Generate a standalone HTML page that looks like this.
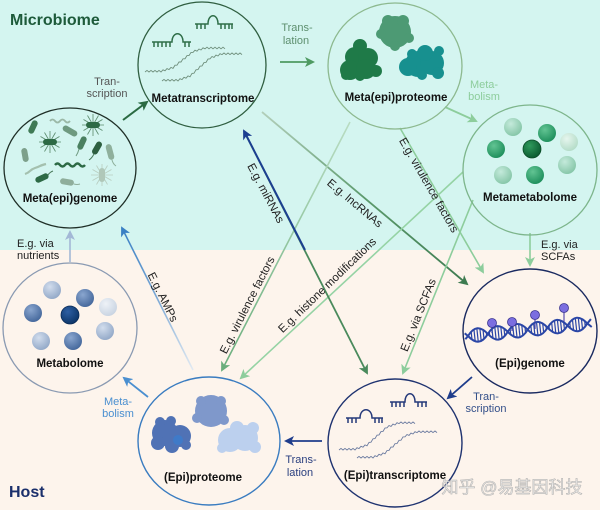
<!DOCTYPE html>
<html><head><meta charset="utf-8"><style>
html,body{margin:0;padding:0;background:#fdf4ec;}
svg{display:block;font-family:"Liberation Sans","Noto Sans CJK SC",sans-serif;}
</style></head><body>
<svg width="600" height="510" viewBox="0 0 600 510" xmlns="http://www.w3.org/2000/svg">
<defs>
 <marker id="mDG" viewBox="0 0 10 10" refX="8" refY="5" markerWidth="10" markerHeight="10" markerUnits="userSpaceOnUse" orient="auto"><path d="M0,0 L10,5 L0,10 L2.5,5 z" fill="#2a6a42"/></marker>
 <marker id="mG" viewBox="0 0 10 10" refX="8" refY="5" markerWidth="10" markerHeight="10" markerUnits="userSpaceOnUse" orient="auto"><path d="M0,0 L10,5 L0,10 L2.5,5 z" fill="#4f9a62"/></marker>
 <marker id="mLG" viewBox="0 0 10 10" refX="8" refY="5" markerWidth="10" markerHeight="10" markerUnits="userSpaceOnUse" orient="auto"><path d="M0,0 L10,5 L0,10 L2.5,5 z" fill="#8dcd9c"/></marker>
 <marker id="mG2" viewBox="0 0 10 10" refX="8" refY="5" markerWidth="10" markerHeight="10" markerUnits="userSpaceOnUse" orient="auto"><path d="M0,0 L10,5 L0,10 L2.5,5 z" fill="#3d7b50"/></marker>
 <marker id="mG3" viewBox="0 0 10 10" refX="8" refY="5" markerWidth="10" markerHeight="10" markerUnits="userSpaceOnUse" orient="auto"><path d="M0,0 L10,5 L0,10 L2.5,5 z" fill="#4a8a5c"/></marker>
 <marker id="mG4" viewBox="0 0 10 10" refX="8" refY="5" markerWidth="10" markerHeight="10" markerUnits="userSpaceOnUse" orient="auto"><path d="M0,0 L10,5 L0,10 L2.5,5 z" fill="#6aae7c"/></marker>
 <marker id="mN" viewBox="0 0 10 10" refX="8" refY="5" markerWidth="10" markerHeight="10" markerUnits="userSpaceOnUse" orient="auto"><path d="M0,0 L10,5 L0,10 L2.5,5 z" fill="#1c3f91"/></marker>
 <marker id="mN2" viewBox="0 0 10 10" refX="8" refY="5" markerWidth="10" markerHeight="10" markerUnits="userSpaceOnUse" orient="auto"><path d="M0,0 L10,5 L0,10 L2.5,5 z" fill="#1f3d8c"/></marker>
 <marker id="mB" viewBox="0 0 10 10" refX="8" refY="5" markerWidth="10" markerHeight="10" markerUnits="userSpaceOnUse" orient="auto"><path d="M0,0 L10,5 L0,10 L2.5,5 z" fill="#3a80c4"/></marker>
 <marker id="mB2" viewBox="0 0 10 10" refX="8" refY="5" markerWidth="10" markerHeight="10" markerUnits="userSpaceOnUse" orient="auto"><path d="M0,0 L10,5 L0,10 L2.5,5 z" fill="#4a8fd0"/></marker>
 <marker id="mGB" viewBox="0 0 10 10" refX="8" refY="5" markerWidth="10" markerHeight="10" markerUnits="userSpaceOnUse" orient="auto"><path d="M0,0 L10,5 L0,10 L2.5,5 z" fill="#a3b8d6"/></marker>

 <linearGradient id="gLnc" gradientUnits="userSpaceOnUse" x1="262" y1="112" x2="468" y2="285"><stop offset="0" stop-color="#b3cfbb"/><stop offset="0.5" stop-color="#5c9a6c"/><stop offset="1" stop-color="#3d7b50"/></linearGradient>
 <linearGradient id="gAmp" gradientUnits="userSpaceOnUse" x1="193" y1="370" x2="122" y2="228"><stop offset="0" stop-color="#e2eaf2"/><stop offset="0.5" stop-color="#7eaad6"/><stop offset="1" stop-color="#3a80c4"/></linearGradient>
 <linearGradient id="gVirL" gradientUnits="userSpaceOnUse" x1="350" y1="122" x2="222" y2="370"><stop offset="0" stop-color="#b9dcc2"/><stop offset="1" stop-color="#6aae7c"/></linearGradient>

 <radialGradient id="sgPale" cx="0.38" cy="0.32" r="0.7"><stop offset="0" stop-color="#e6f6ee"/><stop offset="1" stop-color="#b4dcc8"/></radialGradient>
 <radialGradient id="sgLight" cx="0.38" cy="0.32" r="0.7"><stop offset="0" stop-color="#c4eadb"/><stop offset="1" stop-color="#86c6a8"/></radialGradient>
 <radialGradient id="sgMid" cx="0.38" cy="0.32" r="0.7"><stop offset="0" stop-color="#62c493"/><stop offset="1" stop-color="#1e8f5c"/></radialGradient>
 <radialGradient id="sgDark" cx="0.38" cy="0.32" r="0.7"><stop offset="0" stop-color="#2f9a5c"/><stop offset="1" stop-color="#0a5a30"/></radialGradient>

 <radialGradient id="sbPale" cx="0.38" cy="0.32" r="0.7"><stop offset="0" stop-color="#eef2f7"/><stop offset="1" stop-color="#c9d4e2"/></radialGradient>
 <radialGradient id="sbLight" cx="0.38" cy="0.32" r="0.7"><stop offset="0" stop-color="#d2dded"/><stop offset="1" stop-color="#93a9c8"/></radialGradient>
 <radialGradient id="sbMid" cx="0.38" cy="0.32" r="0.7"><stop offset="0" stop-color="#8aa6cf"/><stop offset="1" stop-color="#45689c"/></radialGradient>
 <radialGradient id="sbDark" cx="0.38" cy="0.32" r="0.7"><stop offset="0" stop-color="#2e5fa3"/><stop offset="1" stop-color="#0c3568"/></radialGradient>

 <g id="hair" stroke-width="0.8" fill="none">
  <path d="M0,0 l11,0 M0,0 l9.5,5.5 M0,0 l5.5,9.5 M0,0 l0,11 M0,0 l-5.5,9.5 M0,0 l-9.5,5.5 M0,0 l-11,0 M0,0 l-9.5,-5.5 M0,0 l-5.5,-9.5 M0,0 l0,-11 M0,0 l5.5,-9.5 M0,0 l9.5,-5.5"/>
 </g>

 <clipPath id="dnaClip">
  <path d="M0,0 c7,9 13,9 20,0 c-7,-9 -13,-9 -20,0 Z M20,0 c7,9 13,9 20,0 c-7,-9 -13,-9 -20,0 Z M40,0 c7,9 13,9 20,0 c-7,-9 -13,-9 -20,0 Z M60,0 c7,9 13,9 20,0 c-7,-9 -13,-9 -20,0 Z M80,0 c7,9 13,9 20,0 c-7,-9 -13,-9 -20,0 Z M100,0 c7,9 13,9 20,0 c-7,-9 -13,-9 -20,0 Z"/>
 </clipPath>
</defs>

<!-- backgrounds -->
<rect x="0" y="0" width="600" height="250" fill="#d4f5f0"/>
<rect x="0" y="250" width="600" height="260" fill="#fdf4ec"/>

<!-- titles -->
<text x="10" y="25" font-size="16" font-weight="bold" fill="#1d5a3a">Microbiome</text>
<text x="9" y="497" font-size="16" font-weight="bold" fill="#1b2f6b">Host</text>

<!-- long crossing connectors -->
<line x1="262" y1="112" x2="467" y2="284" stroke="url(#gLnc)" stroke-width="1.8" marker-end="url(#mG2)"/>
<line x1="400" y1="128" x2="483" y2="272" stroke="#8dcd9c" stroke-width="1.6" marker-end="url(#mLG)"/>
<line x1="350" y1="122" x2="222" y2="370" stroke="url(#gVirL)" stroke-width="1.6" marker-end="url(#mG4)"/>
<line x1="463" y1="172" x2="241" y2="378" stroke="#95d3a4" stroke-width="1.6" marker-end="url(#mLG)"/>
<line x1="473" y1="200" x2="403" y2="373" stroke="#8dcd9c" stroke-width="1.6" marker-end="url(#mLG)"/>
<line x1="193" y1="370" x2="122" y2="228" stroke="url(#gAmp)" stroke-width="1.6" marker-end="url(#mB)"/>
<line x1="246" y1="135" x2="367" y2="373" stroke="#4a8a5c" stroke-width="1.8" marker-end="url(#mG3)"/>
<line x1="305" y1="250" x2="244" y2="131" stroke="#1c3f91" stroke-width="2" marker-end="url(#mN)"/>

<!-- short connectors -->
<line x1="123" y1="120" x2="147" y2="102" stroke="#2a6a42" stroke-width="2" marker-end="url(#mDG)"/>
<line x1="280" y1="62" x2="313" y2="62" stroke="#4f9a62" stroke-width="1.8" marker-end="url(#mG)"/>
<line x1="445" y1="107" x2="476" y2="121" stroke="#8dcd9c" stroke-width="1.8" marker-end="url(#mLG)"/>
<line x1="530" y1="233" x2="530" y2="265" stroke="#8dcd9c" stroke-width="1.6" marker-end="url(#mLG)"/>
<line x1="70" y1="262" x2="70" y2="232" stroke="#a3b8d6" stroke-width="1.6" marker-end="url(#mGB)"/>
<line x1="148" y1="397" x2="124" y2="378" stroke="#4a8fd0" stroke-width="1.8" marker-end="url(#mB2)"/>
<line x1="322" y1="441" x2="286" y2="441" stroke="#1f3d8c" stroke-width="1.8" marker-end="url(#mN2)"/>
<line x1="472" y1="377" x2="448" y2="398" stroke="#1f3d8c" stroke-width="1.8" marker-end="url(#mN2)"/>

<!-- circles -->
<ellipse cx="70" cy="168" rx="66" ry="60" fill="none" stroke="#1f2f27" stroke-width="1.3"/>
<ellipse cx="202" cy="65" rx="64" ry="63" fill="none" stroke="#2f5e40" stroke-width="1.3"/>
<ellipse cx="395" cy="66" rx="67" ry="63" fill="none" stroke="#8db98f" stroke-width="1.3"/>
<ellipse cx="530" cy="170" rx="67" ry="65" fill="none" stroke="#7db58b" stroke-width="1.3"/>
<ellipse cx="70" cy="328" rx="67" ry="65" fill="none" stroke="#8a9ab2" stroke-width="1.3"/>
<ellipse cx="209" cy="441" rx="71" ry="64" fill="none" stroke="#3a7cc0" stroke-width="1.4"/>
<ellipse cx="530" cy="331" rx="67" ry="62" fill="none" stroke="#1a2a60" stroke-width="1.4"/>
<ellipse cx="395" cy="443" rx="67" ry="64" fill="none" stroke="#1f3370" stroke-width="1.4"/>

<!-- Meta(epi)genome bacteria -->
<g>
 <rect x="-7" y="-3" width="14" height="6" rx="3" fill="#3f7a55" transform="translate(33,127) rotate(-65)"/>
 <path d="M50,121 q2.5,-3 5,0 t5,0 t5,0 t5,0" fill="none" stroke="#9bb8a6" stroke-width="1.8"/>
 <rect x="-8" y="-3" width="16" height="6" rx="3" fill="#6f9a80" transform="translate(70,131) rotate(30)"/>
 <use href="#hair" stroke="#5a8a6c" transform="translate(93,125)"/>
 <rect x="-7" y="-3" width="14" height="6" rx="3" fill="#2d6a45" transform="translate(93,125)"/>
 <use href="#hair" stroke="#5a8a6c" transform="translate(50,142)"/>
 <rect x="-7" y="-3" width="14" height="6" rx="3" fill="#2d6a45" transform="translate(50,142)"/>
 <rect x="-7" y="-3" width="14" height="6" rx="3" fill="#4a8060" transform="translate(82,143) rotate(-65)"/>
 <path d="M79,149 q-1,4 -3,7" fill="none" stroke="#6f9a80" stroke-width="1"/>
 <rect x="-7" y="-3" width="14" height="6" rx="3" fill="#2d5f40" transform="translate(97,148) rotate(-60)"/>
 <path d="M94,154 q-2,4 -5,6" fill="none" stroke="#4a7a5c" stroke-width="1"/>
 <rect x="-7" y="-3" width="14" height="6" rx="3" fill="#7da08b" transform="translate(25,155) rotate(80)"/>
 <rect x="-8" y="-3" width="16" height="6" rx="3" fill="#8fb09c" transform="translate(110,152) rotate(75)"/>
 <path d="M112,160 q1,4 4,6" fill="none" stroke="#8fb09c" stroke-width="1"/>
 <path d="M55,165 q2.5,-3 5,0 t5,0 t5,0 t5,0 t5,0 t5,0" fill="none" stroke="#2d6a45" stroke-width="2.4"/>
 <path d="M25,174 q3,-1 5,-3 t5,-3 t5,-2 t6,-2" fill="none" stroke="#a4c0ae" stroke-width="2.2"/>
 <rect x="-7" y="-3" width="14" height="6" rx="3" fill="#2d6a45" transform="translate(42,178) rotate(-25)"/>
 <path d="M48,175 q2,-3 5,-4" fill="none" stroke="#4a7a5c" stroke-width="1"/>
 <rect x="-7" y="-3" width="14" height="6" rx="3" fill="#8fae9b" transform="translate(67,182) rotate(10)"/>
 <path d="M74,184 q3,1 6,0" fill="none" stroke="#8fae9b" stroke-width="1"/>
 <use href="#hair" stroke="#b8cdbf" transform="translate(102,175)"/>
 <rect x="-3" y="-7" width="6" height="14" rx="3" fill="#b0c8b9" transform="translate(102,175)"/>
</g>
<text x="70" y="202" font-size="11.5" font-weight="bold" fill="#111" text-anchor="middle">Meta(epi)genome</text>

<!-- Metatranscriptome -->
<g fill="none" stroke="#2f6e48" stroke-width="1.5">
 <path d="M152,42 H172 C172,31 183,31 183,42 H191"/>
 <path d="M154,42 v5 M158,42 v5 M162,42 v5 M166,42 v5 M170,42 v5 M185,42 v5 M189,42 v5"/>
 <path d="M195,24 H208 C208,13 218,13 218,24 H233"/>
 <path d="M197,24 v5 M201,24 v5 M205,24 v5 M221,24 v5 M225,24 v5 M229,24 v5 M232,24 v5"/>
</g>
<g fill="none" stroke="#6f8f7c" stroke-width="0.9">
 <path d="M145,72 l2,-1.6 l2,1.6 l2,-1.6 l2,1.6 l2,-1.6 l2,1.6 l2,-1.6 l2,1.6 l2,-2.2 l2,1.0 l2,-2.2 l2,1.0 l2,-2.2 l2,1.0 l2,-3.2 l2,0 l2,-3.2 l2,0 l2,-3.2 l2,0 l2,-3.2 l2,0 l2,-3.2 l2,0 l2,-2.2 l2,1.0 l2,-2.2 l2,1.0 l2,-2.2 l2,1.0 l2,-1.6 l2,1.6 l2,-1.6 l2,1.6 l2,-1.6 l2,1.6 l2,-1.6 l2,1.6 l2,-1.6 l2,1.6"/>
 <path d="M162,81 l2,-1.6 l2,1.6 l2,-1.6 l2,1.6 l2,-1.6 l2,1.6 l2,-1.6 l2,1.6 l2,-2.3 l2,0.9 l2,-2.3 l2,0.9 l2,-2.3 l2,0.9 l2,-3.4 l2,-0.2 l2,-3.4 l2,-0.2 l2,-3.4 l2,-0.2 l2,-3.4 l2,-0.2 l2,-3.4 l2,-0.2 l2,-2.3 l2,0.9 l2,-2.3 l2,0.9 l2,-2.3 l2,0.9 l2,-1.6 l2,1.6 l2,-1.6 l2,1.6 l2,-1.6 l2,1.6 l2,-1.6 l2,1.6 l2,-1.6 l2,1.6"/>
</g>
<text x="203" y="102" font-size="11.5" font-weight="bold" fill="#111" text-anchor="middle">Metatranscriptome</text>

<!-- Meta(epi)proteome blobs -->
<g fill="#4d9a74">
 <circle cx="395" cy="32" r="16"/><circle cx="388" cy="21" r="6"/><circle cx="403" cy="21" r="6"/><circle cx="381" cy="34" r="5"/><circle cx="409" cy="38" r="5"/><circle cx="395" cy="46" r="5"/>
</g>
<g fill="#1f7a48">
 <circle cx="360" cy="46" r="7"/><circle cx="355" cy="57" r="10"/><circle cx="368" cy="58" r="10"/><circle cx="350" cy="70" r="10"/><circle cx="366" cy="69" r="10"/><circle cx="376" cy="71" r="6"/><circle cx="346" cy="75" r="5"/><circle cx="360" cy="76" r="5"/>
</g>
<g fill="#17908f">
 <circle cx="418" cy="64" r="13"/><circle cx="432" cy="63" r="12"/><circle cx="408" cy="67" r="9"/><circle cx="425" cy="53" r="8"/><circle cx="439" cy="51" r="5"/><circle cx="412" cy="54" r="5"/><circle cx="422" cy="75" r="5"/><circle cx="438" cy="73" r="6"/>
</g>
<text x="396" y="101" font-size="11.5" font-weight="bold" fill="#111" text-anchor="middle">Meta(epi)proteome</text>

<!-- Metametabolome spheres -->
<circle cx="513" cy="127" r="9" fill="url(#sgLight)"/>
<circle cx="547" cy="133" r="9" fill="url(#sgMid)"/>
<circle cx="569" cy="142" r="9" fill="url(#sgPale)"/>
<circle cx="496" cy="149" r="9" fill="url(#sgMid)"/>
<circle cx="532" cy="149" r="9" fill="url(#sgDark)" stroke="#0a4a26" stroke-width="0.8"/>
<circle cx="567" cy="165" r="9" fill="url(#sgLight)"/>
<circle cx="503" cy="175" r="9" fill="url(#sgLight)"/>
<circle cx="535" cy="175" r="9" fill="url(#sgMid)"/>
<text x="530" y="201" font-size="11.5" font-weight="bold" fill="#111" text-anchor="middle">Metametabolome</text>

<!-- Metabolome spheres -->
<circle cx="52" cy="290" r="9" fill="url(#sbLight)"/>
<circle cx="85" cy="298" r="9" fill="url(#sbMid)"/>
<circle cx="108" cy="307" r="9" fill="url(#sbPale)"/>
<circle cx="33" cy="313" r="9" fill="url(#sbMid)"/>
<circle cx="70" cy="315" r="9" fill="url(#sbDark)" stroke="#0a2a55" stroke-width="0.8"/>
<circle cx="105" cy="331" r="9" fill="url(#sbLight)"/>
<circle cx="41" cy="341" r="9" fill="url(#sbLight)"/>
<circle cx="73" cy="341" r="9" fill="url(#sbMid)"/>
<text x="70" y="367" font-size="11.5" font-weight="bold" fill="#111" text-anchor="middle">Metabolome</text>

<!-- (Epi)proteome blobs -->
<g fill="#7f98cb">
 <circle cx="211" cy="411" r="16"/><circle cx="201" cy="401" r="5"/><circle cx="221" cy="401" r="5"/><circle cx="197" cy="418" r="5"/><circle cx="224" cy="420" r="5"/>
</g>
<g fill="#5072b5">
 <circle cx="165" cy="433" r="13"/><circle cx="180" cy="436" r="11"/><circle cx="158" cy="443" r="7"/><circle cx="172" cy="446" r="7"/><circle cx="160" cy="422" r="5"/><circle cx="186" cy="445" r="5"/><circle cx="171" cy="421" r="5"/>
 <circle cx="178" cy="440" r="5" fill="#3f7ac8"/>
</g>
<g fill="#bcd0ee">
 <circle cx="230" cy="440" r="12"/><circle cx="245" cy="438" r="13"/><circle cx="237" cy="428" r="7"/><circle cx="253" cy="428" r="6"/><circle cx="222" cy="448" r="5"/><circle cx="255" cy="447" r="6"/>
</g>
<text x="203" y="481" font-size="11.5" font-weight="bold" fill="#111" text-anchor="middle">(Epi)proteome</text>

<!-- (Epi)genome DNA -->
<g stroke="#5a4fb0" stroke-width="1.2">
 <line x1="492" y1="323" x2="492" y2="333"/>
 <line x1="512" y1="322" x2="512" y2="331"/>
 <line x1="535" y1="315" x2="535" y2="329"/>
 <line x1="564" y1="308" x2="564" y2="326"/>
</g>
<g transform="translate(468,336) rotate(-6)">
 <line x1="0" y1="0" x2="120" y2="0" stroke="#2b46a6" stroke-width="16" stroke-dasharray="1.2 1.8" clip-path="url(#dnaClip)"/>
 <path d="M-3,-3 L0,0 c7,9 13,9 20,0 c7,-9 13,-9 20,0 c7,9 13,9 20,0 c7,-9 13,-9 20,0 c7,9 13,9 20,0 c7,-9 13,-9 20,0 l4,4" fill="none" stroke="#2b46a6" stroke-width="2"/>
 <path d="M-3,3 L0,0 c7,-9 13,-9 20,0 c7,9 13,9 20,0 c7,-9 13,-9 20,0 c7,9 13,9 20,0 c7,-9 13,-9 20,0 c7,9 13,9 20,0 l4,-4" fill="none" stroke="#2b46a6" stroke-width="2"/>
</g>
<g fill="#7b6ee0" stroke="#3b3590" stroke-width="0.8">
 <circle cx="492" cy="323" r="4.5"/>
 <circle cx="512" cy="322" r="4.5"/>
 <circle cx="535" cy="315" r="4.5"/>
 <circle cx="564" cy="308" r="4.5"/>
</g>
<text x="530" y="367" font-size="11.5" font-weight="bold" fill="#111" text-anchor="middle">(Epi)genome</text>

<!-- (Epi)transcriptome -->
<g fill="none" stroke="#25397a" stroke-width="1.5">
 <path d="M346,418 H360 C360,407 372,407 372,418 H383"/>
 <path d="M348,418 v5 M352,418 v5 M356,418 v5 M375,418 v5 M379,418 v5 M382,418 v5"/>
 <path d="M390,402 H405 C405,391 415,391 415,402 H427"/>
 <path d="M392,402 v5 M396,402 v5 M400,402 v5 M404,402 v5 M418,402 v5 M422,402 v5 M426,402 v5"/>
</g>
<g fill="none" stroke="#6b7ba0" stroke-width="0.9">
 <path d="M339,450 l2,-1.6 l2,1.6 l2,-1.6 l2,1.6 l2,-1.6 l2,1.6 l2,-1.6 l2,1.6 l2,-2.3 l2,0.9 l2,-2.3 l2,0.9 l2,-2.3 l2,0.9 l2,-3.4 l2,-0.2 l2,-3.4 l2,-0.2 l2,-3.4 l2,-0.2 l2,-3.4 l2,-0.2 l2,-3.4 l2,-0.2 l2,-2.3 l2,0.9 l2,-2.3 l2,0.9 l2,-2.3 l2,0.9 l2,-1.6 l2,1.6 l2,-1.6 l2,1.6 l2,-1.6 l2,1.6 l2,-1.6 l2,1.6"/>
 <path d="M357,458 l2,-1.6 l2,1.6 l2,-1.6 l2,1.6 l2,-1.6 l2,1.6 l2,-1.6 l2,1.6 l2,-2.3 l2,0.9 l2,-2.3 l2,0.9 l2,-2.3 l2,0.9 l2,-3.3 l2,-0.1 l2,-3.3 l2,-0.1 l2,-3.3 l2,-0.1 l2,-3.3 l2,-0.1 l2,-3.3 l2,-0.1 l2,-2.3 l2,0.9 l2,-2.3 l2,0.9 l2,-2.3 l2,0.9 l2,-1.6 l2,1.6 l2,-1.6 l2,1.6 l2,-1.6 l2,1.6 l2,-1.6 l2,1.6 l2,-1.6 l2,1.6"/>
</g>
<text x="395" y="479" font-size="11.5" font-weight="bold" fill="#111" text-anchor="middle">(Epi)transcriptome</text>

<!-- short connector labels -->
<g font-size="11" text-anchor="middle">
 <text x="107" y="85" fill="#555">Tran-</text>
 <text x="107" y="97" fill="#555">scription</text>
 <text x="297" y="31" fill="#5d8f6e">Trans-</text>
 <text x="296" y="44" fill="#5d8f6e">lation</text>
 <text x="484" y="88" fill="#8dcd9c">Meta-</text>
 <text x="484" y="100" fill="#8dcd9c">bolism</text>
 <text x="118" y="405" fill="#4a8fd0">Meta-</text>
 <text x="118" y="417" fill="#4a8fd0">bolism</text>
 <text x="301" y="463" fill="#2a3f7f">Trans-</text>
 <text x="300" y="476" fill="#2a3f7f">lation</text>
 <text x="486" y="400" fill="#34508a">Tran-</text>
 <text x="486" y="412" fill="#34508a">scription</text>
</g>
<g font-size="11" fill="#222">
 <text x="541" y="248">E.g. via</text>
 <text x="541" y="260">SCFAs</text>
 <text x="17" y="247">E.g. via</text>
 <text x="17" y="259">nutrients</text>
</g>

<!-- rotated connector labels -->
<g font-size="11.5" fill="#222" text-anchor="middle">
 <text transform="translate(266,193) rotate(62)" dy="4">E.g. miRNAs</text>
 <text transform="translate(355,203) rotate(40)" dy="4">E.g. lncRNAs</text>
 <text transform="translate(429,185) rotate(60)" dy="4">E.g. virulence factors</text>
 <text transform="translate(163,297) rotate(63.4)" dy="4">E.g. AMPs</text>
 <text transform="translate(247,305) rotate(-63)" dy="4">E.g. virulence factors</text>
 <text transform="translate(327,285) rotate(-44)" dy="4">E.g. histone modifications</text>
 <text transform="translate(418,315) rotate(-68)" dy="4">E.g. via SCFAs</text>
</g>

<!-- watermark -->
<text x="512" y="493" font-size="17" text-anchor="middle" fill="#eeeeee" fill-opacity="0.85" stroke="#9a9a9a" stroke-width="0.6" stroke-opacity="0.7">知乎 @易基因科技</text>
</svg>
</body></html>
